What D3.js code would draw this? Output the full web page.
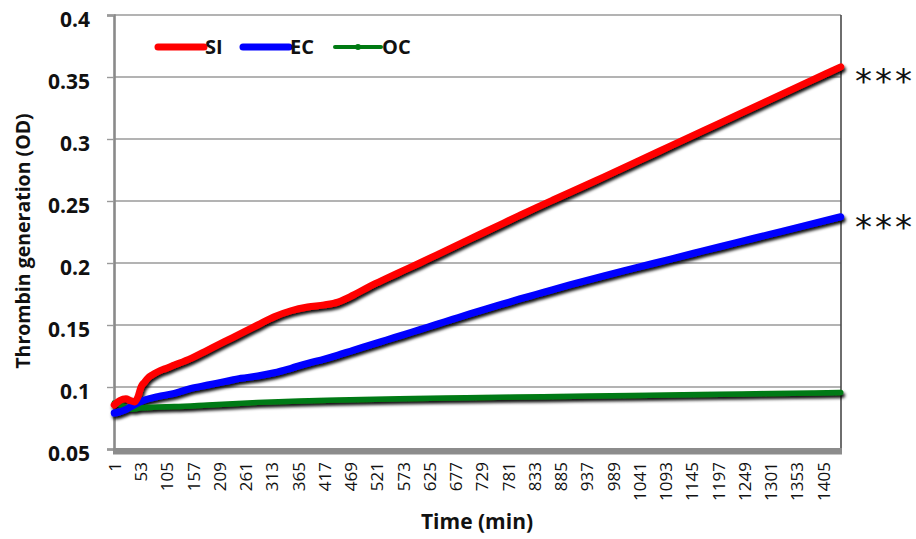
<!DOCTYPE html>
<html>
<head>
<meta charset="utf-8">
<script src="https://cdn.jsdelivr.net/npm/d3@7"></script>
<style>
  html, body { margin: 0; padding: 0; background: #fff; }
  svg { display: block; }
</style>
</head>
<body>
<svg id="chart" width="916" height="539"></svg>
<script>
// ---------------- DATA ----------------
const seriesNames = ["SI", "EC", "OC"];
const seriesColors = ["#ff0000", "#0000ff", "#007a12"];

const siTime = [1, 12, 24, 33, 41, 48, 54, 61, 67, 77, 87, 103, 120, 153, 186, 219, 252, 285, 318, 351, 384, 417, 444, 474, 507, 540, 573, 606, 639, 672, 705, 738, 771, 804, 837, 870, 903, 969, 1035, 1101, 1167, 1233, 1299, 1365, 1440];
const siValues = [0.0855, 0.089, 0.0905, 0.089, 0.088, 0.092, 0.100, 0.104, 0.107, 0.110, 0.1123, 0.115, 0.1177, 0.1231, 0.1298, 0.1365, 0.1433, 0.150, 0.1567, 0.1615, 0.1645, 0.1662, 0.1685, 0.1740, 0.1812, 0.1876, 0.1938, 0.2000, 0.2064, 0.2128, 0.2192, 0.2256, 0.2320, 0.2384, 0.2447, 0.2508, 0.2568, 0.2691, 0.2815, 0.2940, 0.3065, 0.3190, 0.3315, 0.3440, 0.3582];

const ecTime = [1, 12, 24, 41, 61, 87, 120, 153, 186, 219, 252, 285, 318, 351, 384, 417, 444, 474, 507, 540, 573, 606, 639, 672, 705, 738, 771, 804, 837, 870, 903, 969, 1035, 1101, 1167, 1233, 1299, 1365, 1440];
const ecValues = [0.079, 0.080, 0.0818, 0.0855, 0.0895, 0.0922, 0.0949, 0.0989, 0.1016, 0.1043, 0.107, 0.1089, 0.1115, 0.1151, 0.1191, 0.1225, 0.1257, 0.1296, 0.1337, 0.1379, 0.1421, 0.1463, 0.1505, 0.1547, 0.1589, 0.1630, 0.1670, 0.1710, 0.1748, 0.1786, 0.1823, 0.1895, 0.1962, 0.2030, 0.2097, 0.2164, 0.2231, 0.2298, 0.2373];

const ocTime = [1, 8, 16, 24, 33, 41, 54, 87, 120, 186, 285, 368, 444, 566, 698, 850, 1028, 1200, 1384, 1440];
const ocValues = [0.087, 0.0865, 0.085, 0.0835, 0.0825, 0.0822, 0.0832, 0.0838, 0.0842, 0.0855, 0.0876, 0.0888, 0.0895, 0.0905, 0.0913, 0.0922, 0.0931, 0.0941, 0.0952, 0.0955];

const xTickValues = [1, 53, 105, 157, 209, 261, 313, 365, 417, 469, 521, 573, 625, 677, 729, 781, 833, 885, 937, 989, 1041, 1093, 1145, 1197, 1249, 1301, 1353, 1405];
const yTickValues = [0.05, 0.1, 0.15, 0.2, 0.25, 0.3, 0.35, 0.4];
const yTickLabels = ["0.05", "0.1", "0.15", "0.2", "0.25", "0.3", "0.35", "0.4"];

const xTitle = "Time (min)";
const yTitle = "Thrombin generation (OD)";
const significance = ["***", "***"];

// ---------------- LAYOUT ----------------
const L = 114, R = 841, T = 15, B = 449;
const svg = d3.select("#chart");
const FONT = "'Open Sans', 'Liberation Sans', sans-serif";

const x = d3.scaleLinear().domain([0.5, 1440.5]).range([L, R]);
const y = d3.scaleLinear().domain([0.05, 0.4]).range([B, T]);

// shadow filter
const defs = svg.append("defs");
const f = defs.append("filter").attr("id", "shadow")
  .attr("x", "-5%").attr("y", "-20%").attr("width", "110%").attr("height", "140%");
f.append("feDropShadow").attr("dx", 1.5).attr("dy", 2.8)
  .attr("stdDeviation", 1.4).attr("flood-color", "#000").attr("flood-opacity", 0.95);

// gridlines
svg.append("g").selectAll("line").data(yTickValues).join("line")
  .attr("x1", L).attr("x2", R)
  .attr("y1", d => y(d)).attr("y2", d => y(d))
  .attr("stroke", "#9a9a9a").attr("stroke-width", 1.4);

// right border
svg.append("line").attr("x1", R).attr("x2", R).attr("y1", T).attr("y2", B)
  .attr("stroke", "#4a4a4a").attr("stroke-width", 1.6);

// y axis
const yAxis = svg.append("g").attr("transform", `translate(${L},0)`)
  .call(d3.axisLeft(y).tickValues(yTickValues).tickSize(7).tickPadding(17)
    .tickFormat((d, i) => yTickLabels[i]));
yAxis.select(".domain").attr("stroke", "#8a8a8a").attr("stroke-width", 2.6);
yAxis.selectAll(".tick line").attr("stroke", "#9a9a9a").attr("stroke-width", 1.4);
yAxis.selectAll(".tick text")
  .attr("font-family", FONT).attr("font-weight", "bold").attr("font-size", 21)
  .attr("fill", "#111").attr("y", 5);

// bottom gray band (category axis)
svg.append("rect").attr("x", L - 1).attr("y", B - 1).attr("width", R - L + 2).attr("height", 6.5)
  .attr("fill", "#8c8c8c");

// x axis labels
const xAxis = svg.append("g").attr("transform", `translate(0,${B + 13})`)
  .call(d3.axisBottom(x).tickValues(xTickValues).tickSize(0).tickPadding(0)
    .tickFormat(d => String(d)));
xAxis.select(".domain").remove();
xAxis.selectAll(".tick text")
  .attr("font-family", FONT).attr("font-size", 17).attr("fill", "#111")
  .attr("transform", "rotate(-90)")
  .attr("text-anchor", "end")
  .attr("x", 0).attr("y", 0).attr("dy", "0.36em");

// lines
const lineGen = d3.line().x(d => x(d[0])).y(d => y(d[1])).curve(d3.curveMonotoneX);
const seriesData = [
  d3.zip(ocTime, ocValues),
  d3.zip(ecTime, ecValues),
  d3.zip(siTime, siValues)
];
const seriesIdx = [2, 1, 0];
const widths = [7, 7, 5.5];
svg.append("g").attr("filter", "url(#shadow)")
  .selectAll("path").data(seriesData).join("path")
  .attr("d", d => lineGen(d))
  .attr("fill", "none")
  .attr("stroke", (d, i) => seriesColors[seriesIdx[i]])
  .attr("stroke-width", (d, i) => widths[seriesIdx[i]])
  .attr("stroke-linecap", "round").attr("stroke-linejoin", "round");

// legend
const legendX = [158, 243, 335];
const lg = svg.append("g");
seriesNames.forEach((name, i) => {
  lg.append("line").attr("x1", legendX[i]).attr("x2", legendX[i] + 46)
    .attr("y1", 47).attr("y2", 47)
    .attr("stroke", seriesColors[i]).attr("stroke-width", i === 2 ? 4 : 7)
    .attr("stroke-linecap", "round");
  if (i === 2) {
    lg.append("circle").attr("cx", legendX[i] + 23).attr("cy", 47).attr("r", 3)
      .attr("fill", seriesColors[i]);
  }
  lg.append("text").attr("x", legendX[i] + 47).attr("y", 54)
    .attr("font-family", FONT).attr("font-weight", "bold").attr("font-size", 20)
    .attr("fill", "#111").text(name);
});

// axis titles
svg.append("text").attr("x", 477).attr("y", 529).attr("text-anchor", "middle")
  .attr("font-family", FONT).attr("font-weight", "bold").attr("font-size", 21)
  .attr("fill", "#111").text(xTitle);
svg.append("text").attr("transform", "translate(30,241) rotate(-90)")
  .attr("text-anchor", "middle")
  .attr("font-family", FONT).attr("font-weight", "bold").attr("font-size", 19.5)
  .attr("fill", "#111").text(yTitle);

// significance stars at series ends
const starTargets = [siValues[siValues.length - 1], ecValues[ecValues.length - 1]];
svg.append("g").selectAll("text").data(starTargets).join("text")
  .attr("x", 855).attr("y", (d, i) => y(d) + (i === 0 ? 26 : 22))
  .attr("font-family", "'DejaVu Sans', sans-serif").attr("font-size", 34)
  .attr("letter-spacing", 3).attr("fill", "#111")
  .text((d, i) => significance[i]);
</script>
</body>
</html>
